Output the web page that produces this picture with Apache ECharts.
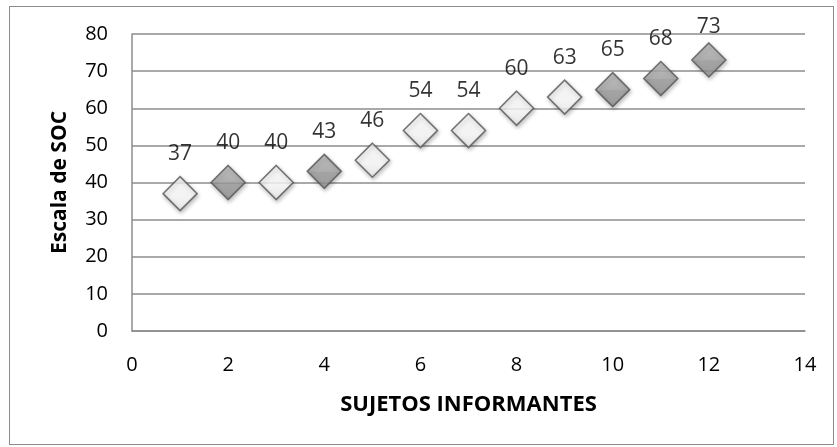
<!DOCTYPE html>
<html>
<head>
<meta charset="utf-8">
<script src="https://cdn.jsdelivr.net/npm/echarts@6/dist/echarts.min.js"></script>
<style>
html,body{margin:0;padding:0;background:#fff;}
#frame{position:absolute;left:9px;top:6px;width:825px;height:439px;border:1px solid #8c8c8c;box-sizing:border-box;}
#chart{position:absolute;left:0;top:0;width:837px;height:447px;}
</style>
</head>
<body>
<div id="frame"></div>
<div id="chart"></div>
<script>
// Data
const subjects = [1, 2, 3, 4, 5, 6, 7, 8, 9, 10, 11, 12];
const socScores = [37, 40, 40, 43, 46, 54, 54, 60, 63, 65, 68, 73];
const darkSubjects = [2, 4, 10, 11, 12];
const xAxisTitle = 'SUJETOS INFORMANTES';
const yAxisTitle = 'Escala de SOC';

const FONT = '"Open Sans", Lato, sans-serif';

const lightFill = {
  type: 'linear', x: 0, y: 0, x2: 0, y2: 1,
  colorStops: [{offset: 0, color: '#ffffff'}, {offset: 0.6, color: '#ffffff'}, {offset: 1, color: '#f0f0f0'}]
};
const darkFill = {
  type: 'linear', x: 0, y: 0, x2: 0, y2: 1,
  colorStops: [{offset: 0, color: '#bdbdbd'}, {offset: 0.5, color: '#a8a8a8'}, {offset: 0.52, color: '#9c9c9c'}, {offset: 1, color: '#929292'}]
};

const points = subjects.map((s, i) => ({
  value: [s, socScores[i]],
  itemStyle: {
    color: darkSubjects.includes(s) ? darkFill : lightFill,
    borderColor: '#555555',
    borderWidth: 1.6,
    shadowColor: 'rgba(0,0,0,0.3)',
    shadowBlur: 4,
    shadowOffsetX: 1,
    shadowOffsetY: 2
  }
}));

const chart = echarts.init(document.getElementById('chart'), null, {renderer: 'canvas'});
chart.setOption({
  animation: false,
  backgroundColor: 'transparent',
  grid: {left: 132, right: 32, top: 34, bottom: 116, containLabel: false},
  xAxis: {
    type: 'value', min: 0, max: 14, interval: 2,
    name: xAxisTitle, nameLocation: 'middle', nameGap: 63,
    nameTextStyle: {fontFamily: FONT, fontWeight: 'bold', fontSize: 22, color: '#000'},
    axisLine: {show: true, lineStyle: {color: '#8c8c8c', width: 1.5}},
    axisTick: {show: false},
    splitLine: {show: false},
    axisLabel: {fontFamily: FONT, fontSize: 20, color: '#000', margin: 24}
  },
  yAxis: {
    type: 'value', min: 0, max: 80, interval: 10,
    name: yAxisTitle, nameLocation: 'middle', nameGap: 61, nameRotate: 90,
    nameTextStyle: {fontFamily: FONT, fontWeight: 'bold', fontSize: 21, color: '#000'},
    axisLine: {show: true, lineStyle: {color: '#8c8c8c', width: 1.5}},
    axisTick: {show: false},
    splitLine: {show: true, lineStyle: {color: '#8c8c8c', width: 1.5}},
    axisLabel: {fontFamily: FONT, fontSize: 20, color: '#000', margin: 24}
  },
  series: [{
    type: 'scatter',
    symbol: 'diamond',
    symbolSize: 34,
    data: points,
    label: {
      show: true, position: 'top', distance: 11,
      fontFamily: FONT, fontSize: 21, color: '#000',
      formatter: p => p.value[1]
    },
    // keep labels from rising above the chart's upper margin
    labelLayout: function (p) {
      const r = p.labelRect;
      const cy = r.y + r.height / 2;
      if (cy < 27) {
        return {x: r.x + r.width / 2, y: 27, align: 'center', verticalAlign: 'middle'};
      }
      return {};
    },
    z: 5
  }]
});
</script>
</body>
</html>
